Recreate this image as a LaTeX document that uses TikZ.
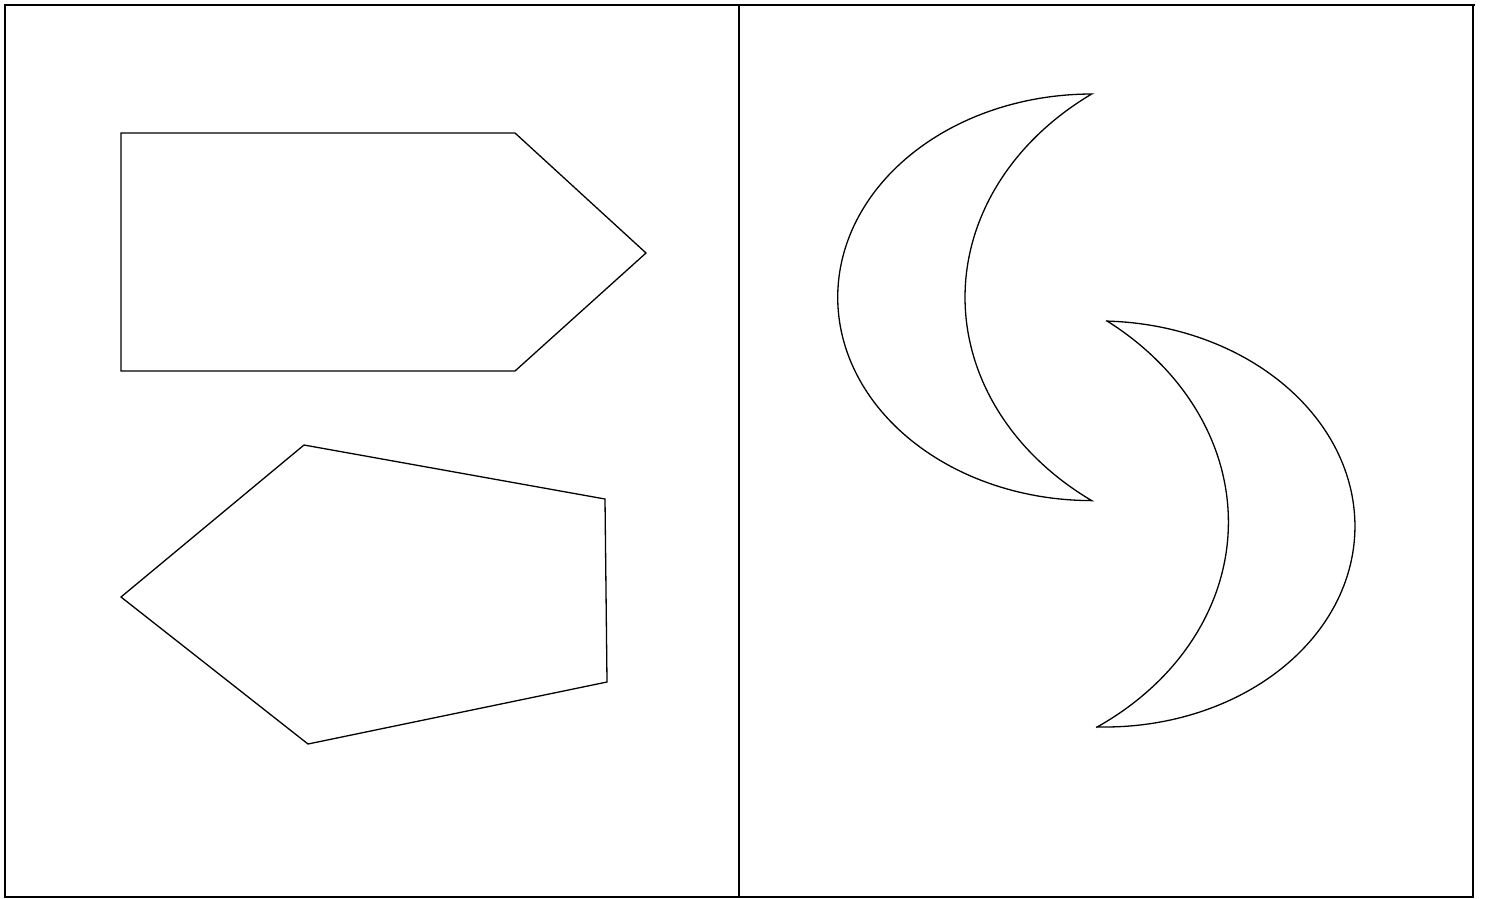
\documentclass[tikz,border=0pt]{standalone}
\begin{document}
\begin{tikzpicture}[x=1pt,y=-1pt,
  outl/.style={line width=1.3pt, line join=miter},
  frame/.style={line width=2pt}]
\useasboundingbox (0,0) rectangle (1488,898);
% frame and divider
\draw[frame] (5,5) rectangle (1473,897);
\draw[frame] (1473,5) -- (1475,5);
\draw[frame] (739,5) -- (739,897);
% left panel: pentagons
\draw[outl] (121,133) -- (515,133) -- (646,253) -- (515,371) -- (121,371) -- cycle;
\draw[outl] (304,445) -- (605,499) -- (607,682) -- (308,744) -- (121,597) -- cycle;
% right panel: crescents
\begin{scope}[shift={(1091.7,297.3)}]
  \draw[outl] plot[domain=90:270, samples=120] ({254*cos(\x)},{203.3*sin(\x)})
    -- plot[domain=234.2:125.8, samples=120] ({178.3+305*cos(\x)},{250.6*sin(\x)}) -- cycle;
\end{scope}
\begin{scope}[shift={(1101.7,524)}, rotate=-1.41]
  \draw[outl] plot[domain=-90:90, samples=120] ({253.3*cos(\x)},{203*sin(\x)})
    -- plot[domain=54.2:-54.2, samples=120] ({-178.3+305*cos(\x)},{250.6*sin(\x)}) -- cycle;
\end{scope}
\end{tikzpicture}
\end{document}
